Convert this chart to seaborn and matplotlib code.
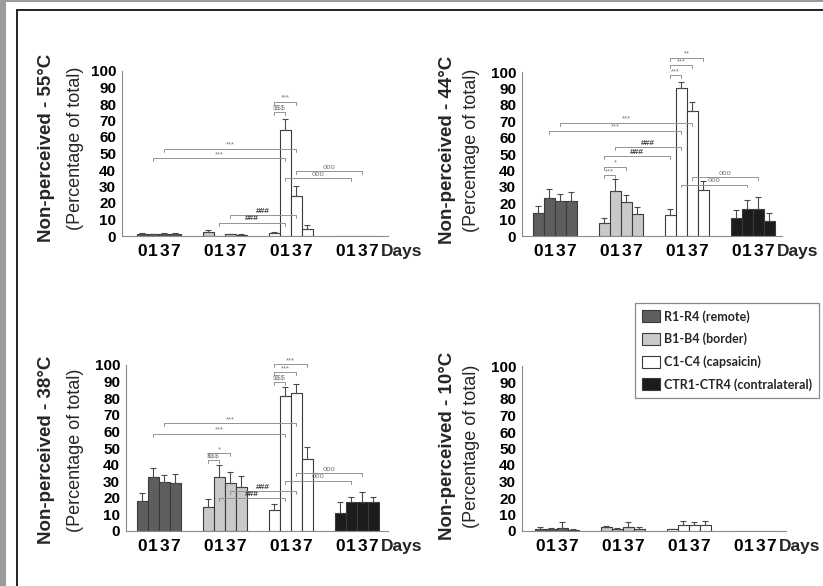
import numpy as np
import pandas as pd
import matplotlib
matplotlib.use("Agg")
import matplotlib.pyplot as plt
from matplotlib.patches import Patch, Rectangle
from matplotlib.lines import Line2D
import seaborn as sns

# ---------------------------------------------------------------- data
days = ["0", "1", "3", "7"]
regions = ["R1-R4 (remote)", "B1-B4 (border)", "C1-C4 (capsaicin)",
           "CTR1-CTR4 (contralateral)"]
region_colors = ["#5e5e5e", "#c9c9c9", "#ffffff", "#1c1c1c"]

# mean % non-perceived, one row per region (R, B, C, CTR), columns = days
mean_55 = [[1.2, 1.0, 1.2, 1.4],
           [2.4, 0.0, 1.0, 0.9],
           [1.8, 64.0, 24.3, 4.3],
           [0.0, 0.0, 0.0, 0.0]]
sem_55 = [[0.6, 0.5, 0.5, 0.6],
          [1.0, 0.0, 0.5, 0.5],
          [0.8, 6.8, 6.0, 2.2],
          [0.0, 0.0, 0.0, 0.0]]

mean_44 = [[14.1, 23.3, 21.4, 21.4],
           [8.0, 27.6, 20.8, 13.7],
           [13.0, 90.2, 76.3, 28.0],
           [11.2, 16.7, 16.7, 9.2]]
sem_44 = [[4.1, 5.1, 4.5, 5.5],
          [3.0, 7.1, 4.5, 4.1],
          [3.5, 3.5, 5.7, 5.5],
          [4.5, 5.5, 7.2, 4.9]]

mean_38 = [[18.3, 32.7, 29.7, 29.1],
           [14.3, 32.7, 28.7, 26.7],
           [12.7, 81.3, 82.9, 43.4],
           [11.0, 17.3, 17.3, 17.3]]
sem_38 = [[4.4, 5.1, 4.0, 5.0],
          [5.0, 7.1, 7.0, 6.4],
          [3.6, 5.7, 5.5, 7.0],
          [6.7, 3.4, 6.0, 3.4]]

mean_10 = [[1.4, 1.2, 2.0, 0.8],
           [2.4, 1.4, 2.4, 1.4],
           [1.0, 3.8, 3.4, 3.8],
           [0.0, 0.0, 0.0, 0.0]]
sem_10 = [[1.0, 0.8, 3.5, 0.7],
          [0.6, 0.6, 3.1, 1.0],
          [0.5, 2.5, 2.1, 2.5],
          [0.0, 0.0, 0.0, 0.0]]

# significance brackets: (region a, day a, region b, day b, height, label)
brackets_55 = [(0, 2, 2, 2, 53.0, "***"), (0, 1, 2, 1, 47.0, "***"),
               (1, 1, 2, 1, 8.0, "###"), (1, 2, 2, 2, 12.5, "###"),
               (2, 1, 3, 1, 35.0, "ooo"), (2, 2, 3, 2, 39.3, "ooo"),
               (2, 0, 2, 1, 75.0, "$$$"), (2, 0, 2, 2, 81.4, "***")]
brackets_44 = [(0, 2, 2, 2, 69.0, "***"), (0, 1, 2, 1, 64.0, "***"),
               (1, 1, 2, 1, 54.0, "###"), (1, 0, 2, 0, 48.8, "###"),
               (1, 0, 1, 1, 37.0, "***"), (1, 0, 1, 2, 42.0, "*"),
               (2, 0, 2, 1, 98.0, "***"), (2, 0, 2, 2, 104.0, "***"),
               (2, 0, 2, 3, 108.5, "**"),
               (2, 1, 3, 1, 31.4, "ooo"), (2, 2, 3, 2, 36.0, "ooo")]
brackets_38 = [(0, 2, 2, 2, 64.9, "***"), (0, 1, 2, 1, 58.4, "***"),
               (1, 0, 1, 1, 42.8, "$$$"), (1, 0, 1, 2, 46.8, "*"),
               (1, 2, 2, 2, 24.0, "###"), (1, 1, 2, 1, 19.7, "###"),
               (2, 0, 2, 1, 89.6, "$$$"), (2, 0, 2, 2, 95.6, "***"),
               (2, 0, 2, 3, 100.4, "***"),
               (2, 1, 3, 1, 30.3, "ooo"), (2, 2, 3, 2, 34.7, "ooo")]
brackets_10 = []

titles = ["Non-perceived - 55°C", "Non-perceived - 44°C",
          "Non-perceived - 38°C", "Non-perceived - 10°C"]
subtitle = "(Percentage of total)"
yticks = list(range(0, 101, 10))

# ---------------------------------------------------------------- style
sns.set_style("white")
plt.rcParams["font.family"] = ["Liberation Sans", "DejaVu Sans"]
plt.rcParams["font.weight"] = "bold"

W, H = 823, 586
fig = plt.figure(figsize=(W / 100, H / 100), dpi=100)
fig.patch.set_facecolor("white")

GROUP_STEP = 6      # four bars plus a two-bar gap per region
BAR_PX = 11         # pixel width of one bar slot

# per panel: y-axis x, first bar centre, x-axis end, baseline y, y=100 y (pixels)
panel_px = [(122, 142, 388, 236, 71),
            (522, 538, 782, 236, 72),
            (126, 142, 388, 531, 365),
            (522, 540, 786, 531, 366)]
label_px = [(47, 75, 148), (448, 471, 150), (47, 75, 450), (448, 471, 446)]

panels = [(mean_55, sem_55, brackets_55), (mean_44, sem_44, brackets_44),
          (mean_38, sem_38, brackets_38), (mean_10, sem_10, brackets_10)]

palette = dict(zip(regions, region_colors))
AXIS_GRAY = "#8c8c8c"


def panel_frame(means, sems):
    rows = []
    for g, region in enumerate(regions):
        for d, day in enumerate(days):
            rows.append(dict(region=region, day=day, pos=g * GROUP_STEP + d,
                             value=means[g][d], sem=sems[g][d]))
    return pd.DataFrame(rows)


def draw_brackets(ax, brackets):
    for g1, d1, g2, d2, y, label in brackets:
        x1 = g1 * GROUP_STEP + d1
        x2 = g2 * GROUP_STEP + d2
        ax.plot([x1, x1, x2, x2], [y - 1.8, y, y, y - 1.8], color="#939393",
                lw=0.7, clip_on=False, zorder=4)
        hashes = label.startswith("#")
        ax.text((x1 + x2) / 2, y + 0.2, label, ha="center", va="bottom",
                fontsize=6 if hashes else 5.5,
                color="#3c3c3c" if hashes else "#7a7a7a",
                fontweight="bold" if hashes else "normal",
                clip_on=False, zorder=5, parse_math=False)


for (means, sems, brackets), (ax_x, first_x, end_x, y0, y100), (bx, rx, ly), title in zip(
        panels, panel_px, label_px, titles):
    ax = fig.add_axes([ax_x / W, 1 - y0 / H, (end_x - ax_x) / W, (y0 - y100) / H])
    df = panel_frame(means, sems)

    sns.barplot(data=df, x="pos", y="value", hue="region", hue_order=regions,
                palette=palette, native_scale=True, dodge=False, width=1.0,
                errorbar=None, edgecolor="#3a3a3a", linewidth=0.8,
                legend=False, ax=ax, zorder=2)

    shown = df[df["sem"] > 0]
    ax.errorbar(shown["pos"], shown["value"],
                yerr=[np.zeros(len(shown)), shown["sem"]], fmt="none",
                ecolor="#4a4a4a", elinewidth=0.8, capsize=2.5, capthick=0.8,
                zorder=3)

    draw_brackets(ax, brackets)

    last_x = first_x + 21 * BAR_PX
    ax.set_xlim(-(first_x - ax_x) / BAR_PX, 21 + (end_x - last_x) / BAR_PX)
    ax.set_ylim(0, 100)
    ax.set_yticks(yticks)
    ax.set_xticks(df["pos"])
    ax.set_xticklabels(df["day"])
    ax.set_xlabel("")
    ax.set_ylabel("")
    sns.despine(ax=ax)
    for side in ("left", "bottom"):
        ax.spines[side].set_color(AXIS_GRAY)
        ax.spines[side].set_linewidth(0.8)
    ax.tick_params(axis="both", colors=AXIS_GRAY, width=0.8, length=3,
                   labelcolor="black")
    ax.tick_params(axis="y", labelsize=11, pad=1.2)
    ax.tick_params(axis="x", labelsize=12.5, pad=3)

    ax.annotate("Days", xy=(21.75, 0), xycoords=("data", "axes fraction"),
                xytext=(0, -8.3), textcoords="offset pixels", ha="left",
                va="top", fontsize=12.5, fontweight="bold",
                annotation_clip=False)

    fig.text(bx / W, 1 - ly / H, title, rotation=90, ha="center", va="center",
             fontsize=13.5, fontweight="bold")
    fig.text(rx / W, 1 - ly / H, subtitle, rotation=90, ha="center",
             va="center", fontsize=13, fontweight="normal")

# legend
handles = [Patch(facecolor=c, edgecolor="#3a3a3a", linewidth=0.8, label=r)
           for r, c in zip(regions, region_colors)]
leg = fig.legend(handles=handles, loc="upper left",
                 bbox_to_anchor=(635 / W, 1 - 303 / H), borderaxespad=0,
                 frameon=True, fancybox=False, framealpha=1,
                 edgecolor="#8a8a8a",
                 prop=dict(family="Lato", weight="bold", size=9),
                 handlelength=1.45, handleheight=1.1, handletextpad=0.35,
                 labelspacing=0.8, borderpad=0.55)
leg.get_frame().set_linewidth(0.9)

# page border
fig.add_artist(Rectangle((0, 0), 6 / W, 1, transform=fig.transFigure,
                         facecolor="#9b9b9b", edgecolor="none"))
fig.add_artist(Rectangle((0, 1 - 2 / H), 1, 2 / H, transform=fig.transFigure,
                         facecolor="#9b9b9b", edgecolor="none"))
fig.add_artist(Line2D([17 / W, 17 / W], [0, 1 - 10 / H],
                      transform=fig.transFigure, color="#222222", lw=1.4))
fig.add_artist(Line2D([17 / W, 1], [1 - 10 / H, 1 - 10 / H],
                      transform=fig.transFigure, color="#222222", lw=1.4))

fig.savefig("out.png", dpi=100, facecolor="white")
